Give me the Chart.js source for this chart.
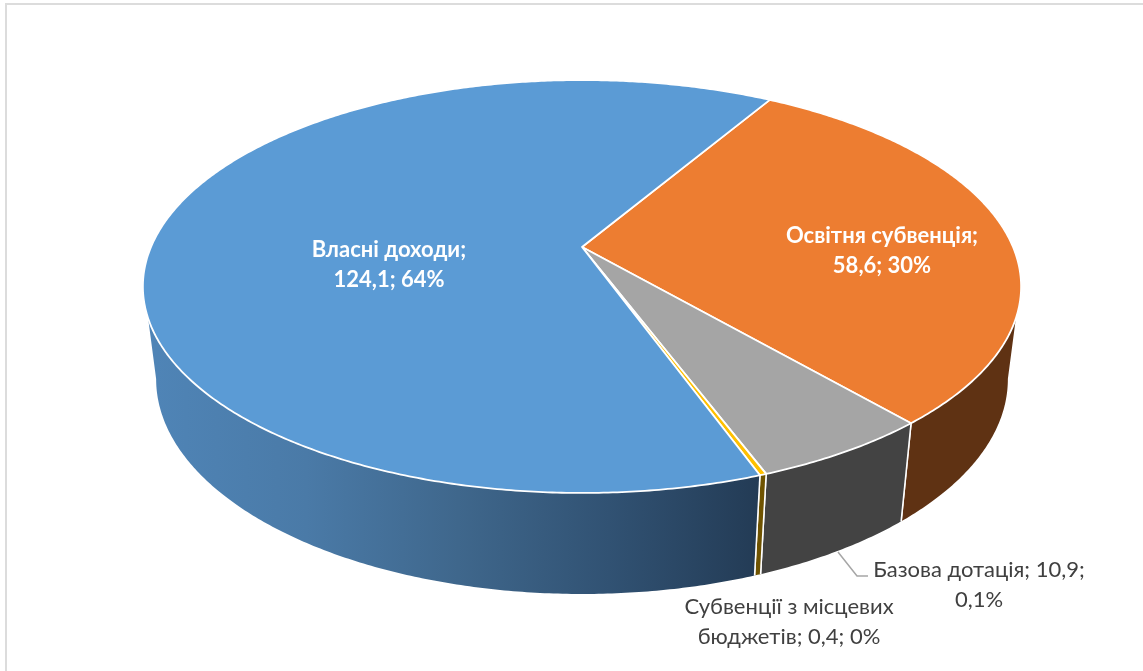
<!DOCTYPE html>
<html>
<head>
<meta charset="utf-8">
<style>
  html, body { margin: 0; padding: 0; background: #fff; overflow: hidden; }
  #frame { position: absolute; left: 5px; top: 3px; right: 0; bottom: 0; border-left: 2px solid #dcdcdc; border-top: 2px solid #dcdcdc; }
  canvas { position: absolute; left: 0; top: 0; }
</style>
<script src="https://cdn.jsdelivr.net/npm/chart.js@4"></script>
</head>
<body>
<div id="frame"></div>
<canvas id="pie" width="1143" height="671"></canvas>
<script>
// slices, clockwise from the start angle
const categories = ['Освітня субвенція', 'Базова дотація', 'Субвенції з місцевих бюджетів', 'Власні доходи'];
const values = [58.6, 10.9, 0.4, 124.1];
const percentLabels = ['30%', '0,1%', '0%', '64%'];

const topColors = ['#ed7d31', '#a5a5a5', '#ffc000', '#5b9bd5'];
const wallColors = ['#5f3213', '#434343', '#6f5300', null];
const blueWallStops = ['#4f84b6', '#4a7aa7', '#3f678c', '#315273', '#233b55'];

// perspective of the tilted disc, fitted to the picture
const TILT = 0.1913;
const topFace = { cx: 582, cy: 247, a: 431, b: 198.9 };
const bottomFace = { cx: 582, cy: 338, a: 418, b: 207 };
const deg = Math.PI / 180;
// where the side wall starts to show, on the top and on the bottom rim
const FRONT_FROM = 19.6 * deg, FRONT_TO = 160.4 * deg;
const BOTTOM_FROM = 11 * deg, BOTTOM_TO = 169 * deg;

function project(face, angle) {
  const u = Math.cos(angle), v = Math.sin(angle);
  const w = 1 - TILT * v;
  return [face.cx + face.a * u / w, face.cy + face.b * v / w];
}

function rim(ctx, face, from, to) {
  const step = Math.PI / 360;
  const n = Math.max(1, Math.ceil(Math.abs(to - from) / step));
  for (let i = 0; i <= n; i++) {
    const p = project(face, from + (to - from) * i / n);
    ctx.lineTo(p[0], p[1]);
  }
}

const labelBlocks = [
  { lines: ['Освітня субвенція;', '58,6; 30%'], x: 882, y: 236, bold: true, color: '#fff' },
  { lines: ['Базова дотація; 10,9;', '0,1%'], x: 979, y: 570, bold: false, color: '#404040' },
  { lines: ['Субвенції з місцевих', 'бюджетів; 0,4; 0%'], x: 789, y: 607, bold: false, color: '#404040' },
  { lines: ['Власні доходи;', '124,1; 64%'], x: 389, y: 250, bold: true, color: '#fff' }
];

const discPlugin = {
  id: 'disc',
  beforeDatasetsDraw(chart) {
    const ctx = chart.ctx;
    const arcs = chart.getDatasetMeta(0).data;
    ctx.save();

    // side walls first, the top face covers whatever is behind it
    arcs.forEach((arc, i) => {
      const start = arc.startAngle, end = arc.endAngle;
      const ranges = [[start, end], [start - 2 * Math.PI, end - 2 * Math.PI]];
      ranges.forEach(r => {
        const from = Math.max(r[0], FRONT_FROM), to = Math.min(r[1], FRONT_TO);
        if (to <= from) return;
        let fill = wallColors[i];
        if (!fill) {
          fill = ctx.createLinearGradient(156, 0, 760, 0);
          blueWallStops.forEach((c, k) => fill.addColorStop(k / (blueWallStops.length - 1), c));
        }
        ctx.beginPath();
        rim(ctx, topFace, from, to);
        rim(ctx, bottomFace, to === FRONT_TO ? BOTTOM_TO : to, from === FRONT_FROM ? BOTTOM_FROM : from);
        ctx.closePath();
        ctx.fillStyle = fill;
        ctx.fill();
        // white seams between the walls
        ctx.strokeStyle = '#fff';
        ctx.lineWidth = 1.5;
        [from, to].forEach(a => {
          if (a === FRONT_FROM || a === FRONT_TO) return;
          const p = project(topFace, a), q = project(bottomFace, a);
          ctx.beginPath();
          ctx.moveTo(p[0], p[1]);
          ctx.lineTo(q[0], q[1]);
          ctx.stroke();
        });
      });
    });

    arcs.forEach((arc, i) => {
      ctx.beginPath();
      ctx.moveTo(topFace.cx, topFace.cy);
      rim(ctx, topFace, arc.startAngle, arc.endAngle);
      ctx.closePath();
      ctx.fillStyle = topColors[i];
      ctx.fill();
      ctx.strokeStyle = '#fff';
      ctx.lineWidth = 1.8;
      ctx.lineJoin = 'round';
      ctx.stroke();
    });

    ctx.restore();
    return false;
  },
  afterDraw(chart) {
    const ctx = chart.ctx;
    ctx.save();
    // leader line for the base grant label
    ctx.strokeStyle = '#a6a6a6';
    ctx.lineWidth = 1.5;
    ctx.beginPath();
    ctx.moveTo(838, 552);
    ctx.lineTo(857, 576);
    ctx.lineTo(868, 576);
    ctx.stroke();

    ctx.textAlign = 'center';
    ctx.textBaseline = 'middle';
    labelBlocks.forEach(b => {
      ctx.font = (b.bold ? 'bold ' : '') + '22px Lato, "Open Sans", sans-serif';
      ctx.fillStyle = b.color;
      b.lines.forEach((line, k) => ctx.fillText(line, b.x, b.y + k * 29.5));
    });
    ctx.restore();
  }
};

new Chart(document.getElementById('pie'), {
  type: 'pie',
  data: {
    labels: categories,
    datasets: [{ data: values, backgroundColor: topColors, borderColor: '#fff' }]
  },
  options: {
    responsive: false,
    animation: false,
    rotation: 30.5,
    plugins: { legend: { display: false }, tooltip: { enabled: false } }
  },
  plugins: [discPlugin]
});
</script>
</body>
</html>
